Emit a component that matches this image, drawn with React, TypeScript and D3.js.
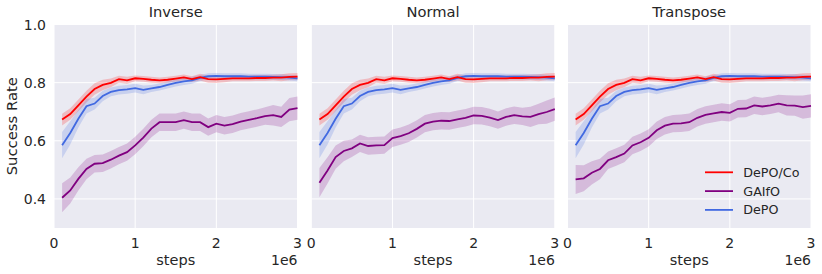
import React, { useRef, useEffect } from 'react';
import { select, scaleLinear, line, area } from 'd3';

const steps = [
  0.1, 0.2, 0.3, 0.4, 0.5, 0.6, 0.7, 0.8, 0.9, 1.0, 1.1, 1.2, 1.3, 1.4, 1.5,
  1.6, 1.7, 1.8, 1.9, 2.0, 2.1, 2.2, 2.3, 2.4, 2.5, 2.6, 2.7, 2.8, 2.9, 3.0,
];

const tasks = ['Inverse', 'Normal', 'Transpose'];

// DePO/Co and DePO look the same in every panel
const depoCo = [
  0.673, 0.692, 0.722, 0.752, 0.778, 0.792, 0.799, 0.812, 0.808, 0.815,
  0.813, 0.810, 0.808, 0.810, 0.814, 0.818, 0.812, 0.819, 0.812, 0.811,
  0.813, 0.815, 0.815, 0.815, 0.816, 0.816, 0.817, 0.817, 0.820, 0.821,
];
const depoCoBand = [
  0.02, 0.02, 0.02, 0.02, 0.02, 0.018, 0.015, 0.012, 0.012, 0.01,
  0.01, 0.01, 0.01, 0.01, 0.01, 0.01, 0.01, 0.012, 0.012, 0.012,
  0.012, 0.01, 0.01, 0.01, 0.01, 0.01, 0.01, 0.012, 0.012, 0.012,
];
const depo = [
  0.585, 0.627, 0.676, 0.719, 0.728, 0.754, 0.768, 0.774, 0.777, 0.781,
  0.775, 0.780, 0.785, 0.792, 0.799, 0.804, 0.808, 0.816, 0.822, 0.823,
  0.822, 0.822, 0.822, 0.821, 0.821, 0.821, 0.820, 0.819, 0.817, 0.815,
];
const depoBand = [
  0.045, 0.04, 0.03, 0.025, 0.02, 0.018, 0.015, 0.015, 0.015, 0.015,
  0.015, 0.012, 0.012, 0.012, 0.012, 0.012, 0.012, 0.01, 0.01, 0.01,
  0.01, 0.01, 0.01, 0.01, 0.01, 0.01, 0.01, 0.01, 0.01, 0.01,
];

const gaifoInverse = [
  0.404, 0.429, 0.469, 0.503, 0.521, 0.523, 0.535, 0.549, 0.561, 0.584,
  0.611, 0.642, 0.664, 0.664, 0.664, 0.671, 0.664, 0.664, 0.647, 0.659,
  0.652, 0.657, 0.666, 0.672, 0.678, 0.685, 0.688, 0.682, 0.707, 0.712,
];
const gaifoNormal = [
  0.456, 0.498, 0.544, 0.565, 0.574, 0.591, 0.582, 0.584, 0.585, 0.609,
  0.616, 0.626, 0.641, 0.659, 0.666, 0.669, 0.668, 0.674, 0.679, 0.687,
  0.686, 0.680, 0.671, 0.682, 0.688, 0.684, 0.682, 0.692, 0.699, 0.709,
];
const gaifoTranspose = [
  0.467, 0.471, 0.490, 0.503, 0.533, 0.544, 0.556, 0.584, 0.595, 0.610,
  0.636, 0.652, 0.659, 0.660, 0.664, 0.679, 0.689, 0.694, 0.699, 0.696,
  0.710, 0.711, 0.722, 0.718, 0.722, 0.728, 0.722, 0.721, 0.716, 0.720,
];
const gaifoBand = [
  0.05, 0.045, 0.04, 0.035, 0.03, 0.03, 0.03, 0.03, 0.03, 0.03,
  0.03, 0.03, 0.03, 0.03, 0.03, 0.03, 0.03, 0.03, 0.03, 0.03,
  0.03, 0.03, 0.03, 0.03, 0.03, 0.03, 0.035, 0.035, 0.04, 0.04,
];

const legendNames = ['DePO/Co', 'GAIfO', 'DePO'];
const colors = ['#ff0000', '#800080', '#4169e1'];
const xTicks = [0, 1, 2, 3];
const yTicks = [0.4, 0.6, 0.8, 1.0];

const gaifoByTask = [gaifoInverse, gaifoNormal, gaifoTranspose];

const panelLeft = [54, 311.3, 567.5];
const panelW = 243.5;
const top = 24.5;
const bottom = 228;
const font = 'DejaVu Sans, sans-serif';
const ink = '#262626';

function App() {
  const svgRef = useRef(null);

  useEffect(() => {
    const svg = select(svgRef.current);
    svg.selectAll('*').remove();

    const y = scaleLinear().domain([0.3, 1.0]).range([bottom, top]);

    tasks.forEach((task, p) => {
      const x = scaleLinear().domain([0, 3]).range([panelLeft[p], panelLeft[p] + panelW]);
      const g = svg.append('g');

      g.append('rect')
        .attr('x', panelLeft[p])
        .attr('y', top)
        .attr('width', panelW)
        .attr('height', bottom - top)
        .attr('fill', '#eaeaf2');

      g.selectAll('.gy')
        .data(yTicks)
        .join('line')
        .attr('x1', panelLeft[p])
        .attr('x2', panelLeft[p] + panelW)
        .attr('y1', (d) => y(d))
        .attr('y2', (d) => y(d))
        .attr('stroke', 'white')
        .attr('stroke-width', 1);
      g.selectAll('.gx')
        .data(xTicks)
        .join('line')
        .attr('class', 'gx')
        .attr('x1', (d) => x(d))
        .attr('x2', (d) => x(d))
        .attr('y1', top)
        .attr('y2', bottom)
        .attr('stroke', 'white')
        .attr('stroke-width', 1);

      const series = [
        { mean: depoCo, band: depoCoBand },
        { mean: gaifoByTask[p], band: gaifoBand },
        { mean: depo, band: depoBand },
      ];
      const areaGen = area()
        .x((d) => x(d[0]))
        .y0((d) => y(d[1] - d[2]))
        .y1((d) => y(d[1] + d[2]));
      const lineGen = line()
        .x((d) => x(d[0]))
        .y((d) => y(d[1]));

      // bands first, then lines (drawn in reverse so red ends on top)
      series.forEach((s, i) => {
        const pts = steps.map((t, k) => [t, s.mean[k], s.band[k]]);
        g.append('path')
          .attr('d', areaGen(pts))
          .attr('fill', colors[i])
          .attr('fill-opacity', 0.2);
      });
      [2, 1, 0].forEach((i) => {
        const s = series[i];
        const pts = steps.map((t, k) => [t, s.mean[k]]);
        g.append('path')
          .attr('d', lineGen(pts))
          .attr('fill', 'none')
          .attr('stroke', colors[i])
          .attr('stroke-width', 1.8);
      });

      g.selectAll('.xt')
        .data(xTicks)
        .join('text')
        .attr('class', 'xt')
        .attr('x', (d) => x(d))
        .attr('y', 248)
        .attr('text-anchor', 'middle')
        .attr('font-family', font)
        .attr('font-size', 14)
        .attr('fill', ink)
        .text((d) => d);

      g.append('text')
        .attr('x', panelLeft[p] + panelW / 2)
        .attr('y', 265)
        .attr('text-anchor', 'middle')
        .attr('font-family', font)
        .attr('font-size', 14.5)
        .attr('fill', ink)
        .text('steps');
      g.append('text')
        .attr('x', panelLeft[p] + panelW)
        .attr('y', 264.5)
        .attr('text-anchor', 'end')
        .attr('font-family', font)
        .attr('font-size', 14)
        .attr('fill', ink)
        .text('1e6');

      g.append('text')
        .attr('x', panelLeft[p] + panelW / 2)
        .attr('y', 16.7)
        .attr('text-anchor', 'middle')
        .attr('font-family', font)
        .attr('font-size', 14.7)
        .attr('fill', ink)
        .text(task);

      if (p === 0) {
        g.selectAll('.yt')
          .data(yTicks)
          .join('text')
          .attr('class', 'yt')
          .attr('x', panelLeft[p] - 8)
          .attr('y', (d) => y(d))
          .attr('dy', '0.36em')
          .attr('text-anchor', 'end')
          .attr('font-family', font)
          .attr('font-size', 14)
          .attr('fill', ink)
          .text((d) => d.toFixed(1));
        g.append('text')
          .attr('transform', `translate(17,${(top + bottom) / 2}) rotate(-90)`)
          .attr('text-anchor', 'middle')
          .attr('font-family', font)
          .attr('font-size', 14.8)
          .attr('fill', ink)
          .text('Success Rate');
      }

      if (p === 2) {
        const leg = g.append('g');
        legendNames.forEach((name, i) => {
          const ly = 172.3 + i * 18.8;
          leg.append('line')
            .attr('x1', 705)
            .attr('x2', 733)
            .attr('y1', ly)
            .attr('y2', ly)
            .attr('stroke', colors[i])
            .attr('stroke-width', 1.8);
          leg.append('text')
            .attr('x', 743.3)
            .attr('y', ly)
            .attr('dy', '0.36em')
            .attr('font-family', font)
            .attr('font-size', 12.7)
            .attr('fill', ink)
            .text(name);
        });
      }
    });
  }, []);

  return (
    <svg
      ref={svgRef}
      width={822}
      height={274}
      style={{ position: 'absolute', left: 0, top: 0, background: 'white' }}
    />
  );
}

export default App;
